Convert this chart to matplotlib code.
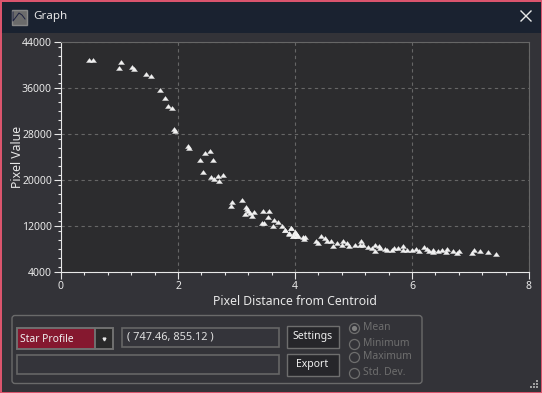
import matplotlib
matplotlib.use('Agg')
import matplotlib.pyplot as plt
from matplotlib.patches import Rectangle, FancyBboxPatch, Circle
from matplotlib.path import Path
from matplotlib.ticker import MultipleLocator

plt.rcParams['font.family'] = ['Noto Sans', 'DejaVu Sans']

W, H = 542, 393

# Values
dist = [0.479, 0.547, 1.03, 0.997, 1.214, 1.254, 1.459, 1.544, 1.698, 1.784, 1.829, 1.903, 1.932, 1.955,
        2.171, 2.194, 2.467, 2.553, 2.382, 2.604, 2.433, 2.564, 2.621, 2.69, 2.775, 2.707, 3.10, 2.929,
        2.912, 3.168, 3.18, 3.202, 3.151, 3.231, 3.305, 3.271, 3.459, 3.561, 3.544, 3.641, 3.709, 3.43,
        3.47, 3.63, 3.783, 3.835, 3.937, 3.903, 4.0, 3.966, 4.017, 4.051,
        3.829, 3.932, 3.904, 3.995, 3.972, 4.04, 4.131, 4.154, 4.171, 4.359, 4.399, 4.451, 4.513, 4.542,
        4.61, 4.656, 4.713, 4.798, 4.827, 4.884, 4.918, 5.026, 5.129, 5.112, 5.168, 5.254, 5.311, 5.368,
        5.368, 5.442, 5.453, 5.539, 5.567, 5.653, 5.698, 5.767, 5.852, 5.852, 5.909, 5.995, 6.069, 6.126,
        6.206, 6.251, 6.291, 6.365, 6.354, 6.451, 6.508, 6.593, 6.582, 6.696, 6.764, 6.81, 7.02, 7.066,
        7.168, 7.305, 7.442]
pixel_value = [40867, 40867, 40461, 39417, 39592, 39302, 38432, 38084, 35650, 34258, 32867, 32519, 28809, 28519,
               25852, 25562, 24693, 25041, 23476, 23476, 21389, 20519, 20229, 20693, 20867, 19823, 16519, 16172,
               15476, 15302, 14896, 14606, 14084, 14258, 14432, 13737, 14606, 14606, 13563, 13041, 12693, 12519,
               12519, 11997, 11997, 11302, 11592, 10606, 10954, 10258, 10606, 10258,
               11305, 11594, 10725, 10899, 10319, 10319, 10145, 9681, 10145, 9391, 9044, 10203, 9971, 9449,
               9449, 8580, 9101, 8754, 9333, 9101, 8464, 8696, 9333, 8638, 8638, 8406, 8116, 8638,
               7710, 8522, 8116, 7942, 7826, 7884, 8232, 8232, 8522, 7768, 7884, 7826, 7942, 7652,
               8348, 8000, 7594, 7884, 7536, 7594, 7826, 8000, 7536, 7710, 7362, 7710, 7362, 7826,
               7652, 7478, 7130]
x_ticks = [0, 2, 4, 6, 8]
y_ticks = [4000, 12000, 20000, 28000, 36000, 44000]

modes = ['Mean', 'Minimum', 'Maximum', 'Std. Dev.']
mode_y = [328, 344, 357, 373]

fig = plt.figure(figsize=(W / 100, H / 100), dpi=100, facecolor='#333338')

# window chrome, in pixels
bg = fig.add_axes([0, 0, 1, 1])
bg.set_xlim(0, W)
bg.set_ylim(H, 0)
bg.axis('off')


def box(x, y, w, h, fc='none', ec='#666666', lw=1.0, z=2):
    bg.add_patch(Rectangle((x, y), w, h, facecolor=fc, edgecolor=ec, linewidth=lw, zorder=z))


box(0, 0, W, 33, fc='#1a2230', ec='none', z=1)
box(0.5, 0.5, W - 1, H - 1, ec='#e0566f', lw=1.4, z=5)

# title icon and title
box(11.5, 9.5, 15, 15, fc='#6b6b6b', ec='#888888')
bg.plot([13, 13, 19, 22, 25], [12, 21, 13, 15, 19], color='#1c2040', lw=0.7, zorder=3)
bg.text(33, 17, 'Graph', color='#e6e6e6', fontsize=8.3, va='center', ha='left')
bg.plot([521, 531], [11, 21], color='#e8e8e8', lw=1)
bg.plot([521, 531], [21, 11], color='#e8e8e8', lw=1)

# group box
bg.add_patch(FancyBboxPatch((12, 315.5), 410, 68, boxstyle='round,pad=0,rounding_size=3',
                            facecolor='none', edgecolor='#6a6a6a', linewidth=1))

# combo box
box(17, 328, 78, 21, fc='#85182f', ec='#707070', lw=1.4)
box(95, 328, 18, 21, fc='#2a2a2a', ec='#707070', lw=1.4)
bg.text(19.5, 339, 'Star Profile', color='#f0f0f0', fontsize=7.4, va='center', ha='left')
bg.plot([103.5], [338.5], marker='v', ms=2, color='#e8e8e8', zorder=4)

# text fields
box(121.5, 328, 157, 18.5, fc='#34343a', ec='#666666', lw=1.2)
bg.text(127, 337, '( 747.46, 855.12 )', color='#e0e0e0', fontsize=7.9, va='center', ha='left')
box(17, 354.5, 261.5, 19, fc='#34343a', ec='#666666', lw=1.2)

# buttons
box(286.5, 325.5, 52, 22, fc='#26262a', ec='#6e6e6e', lw=1)
box(286.5, 353.5, 52, 22, fc='#26262a', ec='#6e6e6e', lw=1)
bg.text(312.5, 337, 'Settings', color='#f0f0f0', fontsize=7.5, va='center', ha='center')
bg.text(312.5, 365, 'Export', color='#f0f0f0', fontsize=7.5, va='center', ha='center')

# radio buttons
for i, (m, y) in enumerate(zip(modes, mode_y)):
    bg.add_patch(Circle((354.5, y + 0.5), 5, facecolor='none', edgecolor='#6e6e6e', linewidth=0.9))
    bg.text(363, y - 0.5, m, color='#6e6e6e', fontsize=7.4, va='center', ha='left')
    if i == 0:
        bg.add_patch(Circle((354.5, y + 0.5), 2.6, facecolor='#808080', edgecolor='none'))

# resize grip
for gx, gy in [(536, 380), (533, 383), (536, 383), (530, 386), (533, 386), (536, 386)]:
    box(gx, gy, 1.5, 1.5, fc='#a0a0a0', ec='none')

# plot
left, right, top, bottom = 61, 529, 42, 272
ax = fig.add_axes([left / W, 1 - bottom / H, (right - left) / W, (bottom - top) / H], facecolor='#2c2c2e')
ax.set_xlim(0, 8)
ax.set_ylim(4000, 44000)
ax.set_xticks(x_ticks)
ax.set_yticks(y_ticks)
ax.xaxis.set_minor_locator(MultipleLocator(0.4))
ax.yaxis.set_minor_locator(MultipleLocator(1600))
ax.grid(True, which='major', color='#666666', linestyle=(0, (3, 3)), linewidth=0.8)
ax.set_axisbelow(True)
ax.tick_params(which='major', direction='out', length=5, width=0.8, color='#e8e8e8',
               labelcolor='#e8e8e8', labelsize=7.5, pad=1.5)
ax.tick_params(which='minor', direction='out', length=2.5, width=0.8, color='#e8e8e8')
ax.spines['left'].set_color('#e8e8e8')
ax.spines['bottom'].set_color('#e8e8e8')
ax.spines['top'].set_color('#666666')
ax.spines['right'].set_color('#666666')

# flat little triangle, wider than the built in one
flat_tri = Path([(-0.5, -0.34), (0.5, -0.34), (0, 0.34), (-0.5, -0.34)], closed=True)
ax.scatter(dist, pixel_value, marker=flat_tri, s=19, facecolor='#f0f0f0', edgecolor='white', linewidth=0.2,
           clip_on=False, zorder=3)
ax.set_xlabel('Pixel Distance from Centroid', color='#e8e8e8', fontsize=8.8, labelpad=2)
ax.set_ylabel('Pixel Value', color='#e8e8e8', fontsize=8.8, labelpad=-1.5)

fig.savefig('out.png', dpi=100, facecolor=fig.get_facecolor())
